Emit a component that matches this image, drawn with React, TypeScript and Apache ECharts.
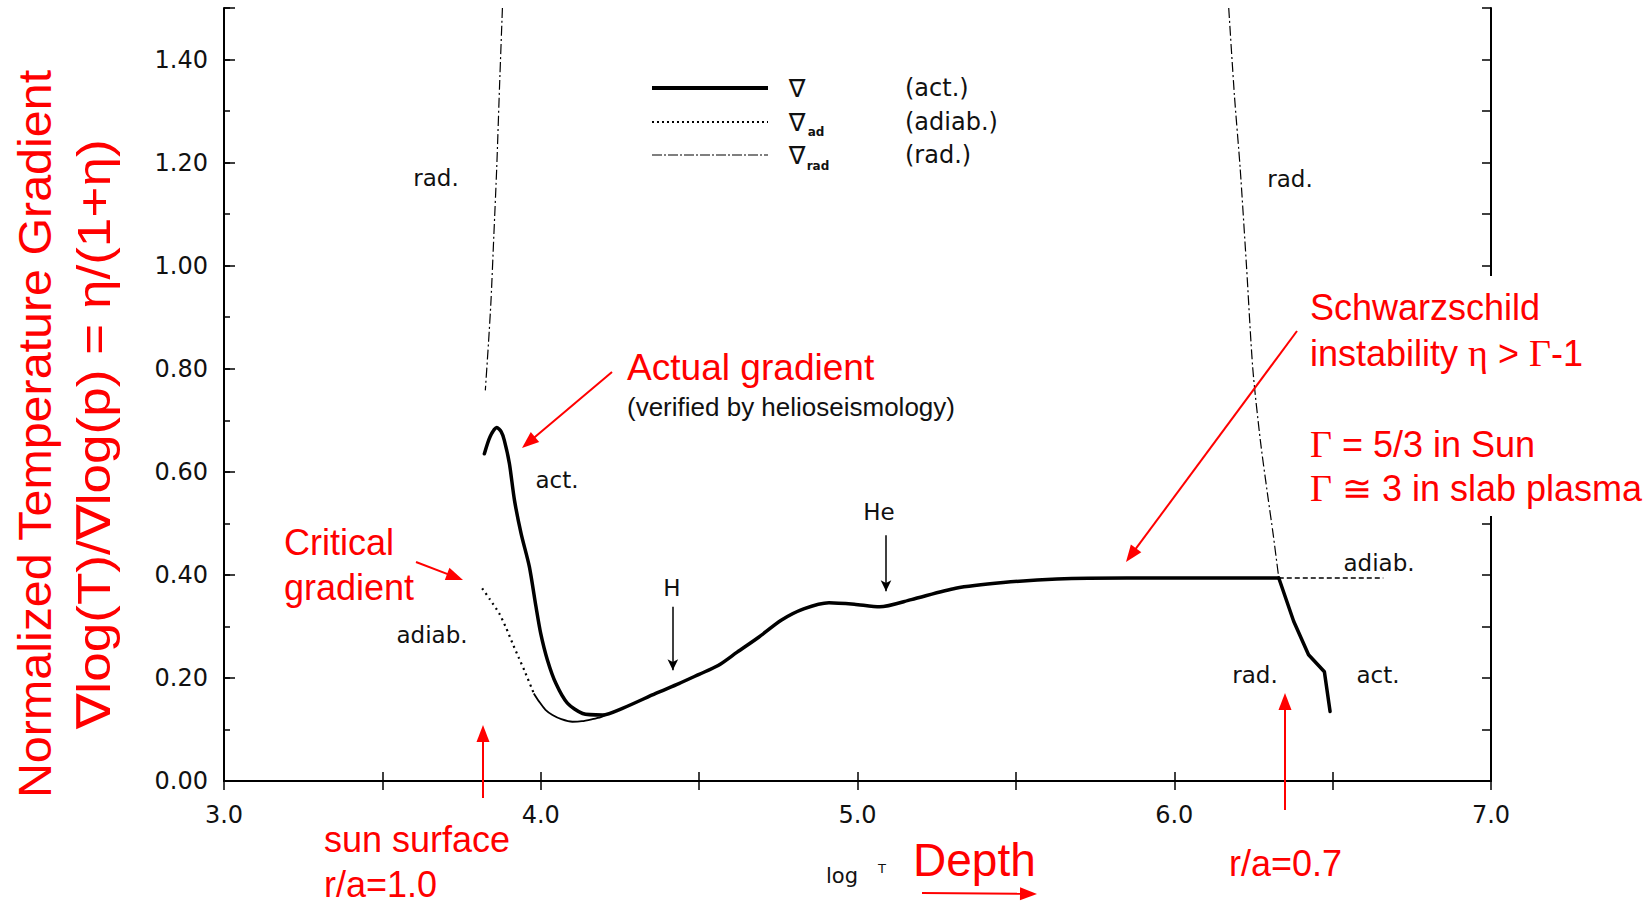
import React, { useEffect, useRef } from 'react';
import * as echarts from 'echarts';

// ---- data (log T vs normalized gradient) ----
const ACT_CONV_X = [3.822, 3.84, 3.861, 3.875, 3.885, 3.901, 3.917, 3.938, 3.964, 3.985, 4.0, 4.021, 4.048, 4.084, 4.132, 4.195, 4.258, 4.363, 4.436, 4.5, 4.56, 4.62, 4.688, 4.759, 4.83, 4.91, 4.99, 5.07, 5.17, 5.31, 5.46, 5.63, 5.85, 6.1, 6.33];
const ACT_CONV_Y = [0.635, 0.668, 0.686, 0.678, 0.661, 0.616, 0.545, 0.48, 0.416, 0.338, 0.286, 0.235, 0.189, 0.151, 0.131, 0.128, 0.141, 0.17, 0.189, 0.207, 0.224, 0.25, 0.279, 0.312, 0.334, 0.346, 0.343, 0.338, 0.352, 0.374, 0.385, 0.392, 0.394, 0.394, 0.394];
const ACT_RAD_X = [6.33, 6.377, 6.424, 6.474, 6.492];
const ACT_RAD_Y = [0.394, 0.31, 0.245, 0.212, 0.135];
const ADIAB_DOT_X = [3.815, 3.84, 3.869, 3.89, 3.911, 3.93, 3.948, 3.978];
const ADIAB_DOT_Y = [0.374, 0.352, 0.325, 0.298, 0.267, 0.24, 0.215, 0.17];
const ADIAB_THIN_X = [3.978, 3.995, 4.015, 4.037, 4.065, 4.1, 4.13, 4.163, 4.19, 4.205];
const ADIAB_THIN_Y = [0.17, 0.154, 0.138, 0.128, 0.12, 0.115, 0.116, 0.12, 0.124, 0.128];
const ADIAB_CORE_X = [6.33, 6.66];
const ADIAB_CORE_Y = [0.394, 0.394];
const RAD_SURF_X = [3.879, 3.87, 3.861, 3.852, 3.843, 3.835, 3.825];
const RAD_SURF_Y = [1.5, 1.35, 1.19, 1.06, 0.933, 0.85, 0.758];
const RAD_CORE_X = [6.172, 6.19, 6.208, 6.228, 6.248, 6.272, 6.296, 6.312, 6.33];
const RAD_CORE_Y = [1.5, 1.33, 1.19, 1.0, 0.8, 0.66, 0.55, 0.48, 0.394];
const H_ARROW = [4.417, 0.338, 0.215];
const HE_ARROW = [5.09, 0.477, 0.368];

const X_MIN = 3, X_MAX = 7, Y_MIN = 0, Y_MAX = 1.5;

const BLACK_FONT = 'DejaVu Sans';
const RED_FONT = '"Liberation Sans", Arial, sans-serif';
const SERIF = '"Liberation Serif", "Times New Roman", serif';
const RED = '#ff0000';
const INK = '#111';

const pairs = (xs: number[], ys: number[]) => xs.map((x, i) => [x, ys[i]]);

function arrow(x1: number, y1: number, x2: number, y2: number, hl = 17, hw = 13, w = 2) {
  const dx = x2 - x1, dy = y2 - y1;
  const len = Math.hypot(dx, dy);
  const ux = dx / len, uy = dy / len;
  const bx = x2 - ux * hl, by = y2 - uy * hl;
  const px = -uy, py = ux;
  return [
    { type: 'line', z: 100, shape: { x1, y1, x2: bx + ux * 2, y2: by + uy * 2 }, style: { stroke: RED, lineWidth: w } },
    {
      type: 'polygon', z: 100,
      shape: { points: [[x2, y2], [bx + (px * hw) / 2, by + (py * hw) / 2], [bx - (px * hw) / 2, by - (py * hw) / 2]] },
      style: { fill: RED },
    },
  ];
}

function txt(text: string, x: number, y: number, size: number, fill = INK, family = BLACK_FONT, align = 'center', extra: any = {}) {
  const { style: extraStyle, ...rest } = extra;
  return {
    type: 'text', z: 100, x, y, ...rest,
    style: { text, fontSize: size, fontFamily: family, fill, align, verticalAlign: 'middle', ...(extraStyle || {}) },
  };
}

export default function App() {
  const ref = useRef<HTMLDivElement>(null);
  useEffect(() => {
    const chart = echarts.init(ref.current!, null, { renderer: 'svg' });
    const axisLine = { show: true, lineStyle: { color: '#000', width: 2 } };
    const tickStyle = { color: '#000', width: 1.5 };
    const lineBase = { type: 'line', xAxisIndex: 0, yAxisIndex: 0, showSymbol: false, symbol: 'none', silent: true, animation: false };

    const graphic: any[] = [
      // white box behind red notes (covers right frame, as in the source)
      { type: 'rect', z: 90, shape: { x: 1300, y: 276, width: 351, height: 240 }, style: { fill: '#fff' } },
      // legend
      { type: 'line', z: 100, shape: { x1: 652, y1: 88, x2: 768, y2: 88 }, style: { stroke: '#000', lineWidth: 4 } },
      { type: 'line', z: 100, shape: { x1: 652, y1: 122, x2: 768, y2: 122 }, style: { stroke: '#000', lineWidth: 1.8, lineDash: [2, 3] } },
      { type: 'line', z: 100, shape: { x1: 652, y1: 155, x2: 768, y2: 155 }, style: { stroke: '#000', lineWidth: 1.2, lineDash: [10, 2, 2, 2] } },
      txt('∇', 797, 88, 25),
      txt('∇', 797, 122, 25),
      txt('ad', 816, 132, 12, INK, BLACK_FONT, 'center', { style: { fontWeight: 'bold' } }),
      txt('∇', 797, 155, 25),
      txt('rad', 818, 166, 12, INK, BLACK_FONT, 'center', { style: { fontWeight: 'bold' } }),
      txt('(act.)', 905, 88, 24, INK, BLACK_FONT, 'left'),
      txt('(adiab.)', 905, 122, 24, INK, BLACK_FONT, 'left'),
      txt('(rad.)', 905, 155, 24, INK, BLACK_FONT, 'left'),
      // black in-plot labels
      txt('rad.', 436, 178, 23),
      txt('rad.', 1290, 179, 23),
      txt('act.', 557, 480, 23),
      txt('adiab.', 432, 635, 23),
      txt('H', 672, 588, 23),
      txt('He', 879, 512, 23),
      txt('adiab.', 1379, 563, 23),
      txt('rad.', 1255, 675, 23),
      txt('act.', 1378, 675, 23),
      txt('log', 842, 876, 21),
      txt('T', 882, 868, 13),
      // y title
      txt('Normalized Temperature Gradient', 35, 434, 47, RED, RED_FONT, 'center', { rotation: Math.PI / 2, scaleX: 1.03 }),
      txt('∇log(T)/∇log(p) = η/(1+η)', 94, 434, 47, RED, RED_FONT, 'center', { rotation: Math.PI / 2, scaleX: 1.13 }),
      // red notes
      txt('Actual gradient', 627, 368, 36, RED, RED_FONT, 'left', { scaleX: 1.03 }),
      txt('(verified by helioseismology)', 627, 407, 25, INK, RED_FONT, 'left', { scaleX: 1.04 }),
      txt('Critical', 284, 542, 36, RED, RED_FONT, 'left'),
      txt('gradient', 284, 587, 36, RED, RED_FONT, 'left'),
      txt('Schwarzschild', 1310, 307, 36, RED, RED_FONT, 'left'),
      {
        type: 'text', z: 100, x: 1310, y: 353,
        style: {
          text: 'instability {s|η} > {s|Γ}-1', fontSize: 36, fontFamily: RED_FONT, fill: RED, align: 'left', verticalAlign: 'middle',
          rich: { s: { fontSize: 38, fontFamily: SERIF, fill: RED } },
        },
      },
      {
        type: 'text', z: 100, x: 1310, y: 444,
        style: {
          text: '{s|Γ} = 5/3 in Sun', fontSize: 36, fontFamily: RED_FONT, fill: RED, align: 'left', verticalAlign: 'middle',
          rich: { s: { fontSize: 38, fontFamily: SERIF, fill: RED } },
        },
      },
      {
        type: 'text', z: 100, x: 1310, y: 488,
        style: {
          text: '{s|Γ} ≅ 3 in slab plasma', fontSize: 36, fontFamily: RED_FONT, fill: RED, align: 'left', verticalAlign: 'middle',
          rich: { s: { fontSize: 38, fontFamily: SERIF, fill: RED } },
        },
      },
      txt('sun surface', 324, 839, 36, RED, RED_FONT, 'left'),
      txt('r/a=1.0', 324, 884, 36, RED, RED_FONT, 'left'),
      txt('r/a=0.7', 1229, 863, 36, RED, RED_FONT, 'left'),
      txt('Depth', 913, 860, 46, RED, RED_FONT, 'left'),
      ...arrow(612, 372, 522, 448),
      ...arrow(416, 562, 463, 580),
      ...arrow(483, 798, 483, 725),
      ...arrow(1297, 331, 1126, 562),
      ...arrow(1285, 810, 1285, 693),
      ...arrow(922, 893, 1037, 894, 17, 13, 2),
    ];

    const option: any = {
      animation: false,
      backgroundColor: '#fff',
      grid: { left: 224, right: 160, top: 8, bottom: 122, containLabel: false },
      xAxis: [
        {
          type: 'value', min: X_MIN, max: X_MAX, interval: 0.5, position: 'bottom',
          axisLine, splitLine: { show: false },
          axisTick: { show: true, inside: true, length: 9, lineStyle: tickStyle },
          axisLabel: {
            show: true, margin: 22, fontSize: 24, color: INK, fontFamily: BLACK_FONT,
            formatter: (v: number) => (Math.abs(v - Math.round(v)) < 1e-6 ? v.toFixed(1) : ''),
          },
        },
        {
          type: 'value', min: X_MIN, max: X_MAX, interval: 0.5, position: 'top',
          axisLine, splitLine: { show: false },
          axisTick: { show: true, inside: true, length: 9, lineStyle: tickStyle },
          axisLabel: { show: false },
        },
      ],
      yAxis: [
        {
          type: 'value', min: Y_MIN, max: Y_MAX, interval: 0.1, position: 'left',
          axisLine, splitLine: { show: false },
          axisTick: { show: true, inside: true, length: 6, lineStyle: tickStyle },
          axisLabel: {
            show: true, margin: 16, fontSize: 24, color: INK, fontFamily: BLACK_FONT,
            formatter: (v: number) => {
              const k = Math.round(v * 10);
              return k % 2 === 0 && k <= 14 ? v.toFixed(2) : '';
            },
          },
        },
        {
          type: 'value', min: Y_MIN, max: Y_MAX, interval: 0.2, position: 'left',
          axisLine: { show: false }, splitLine: { show: false },
          axisTick: { show: true, inside: true, length: 11, lineStyle: tickStyle },
          axisLabel: { show: false },
        },
        {
          type: 'value', min: Y_MIN, max: Y_MAX, interval: 0.1, position: 'right',
          axisLine, splitLine: { show: false },
          axisTick: { show: true, inside: true, length: 9, lineStyle: tickStyle },
          axisLabel: { show: false },
        },
      ],
      series: [
        {
          ...lineBase, name: 'act', data: pairs(ACT_CONV_X, ACT_CONV_Y), smooth: 0.25,
          lineStyle: { color: '#000', width: 3.5, cap: 'round', join: 'round' },
          markLine: {
            silent: true, symbol: ['none', 'arrow'], symbolSize: [8, 11],
            label: { show: false },
            lineStyle: { color: '#000', width: 1.5, type: 'solid' },
            data: [
              [{ coord: [H_ARROW[0], H_ARROW[1]] }, { coord: [H_ARROW[0], H_ARROW[2]] }],
              [{ coord: [HE_ARROW[0], HE_ARROW[1]] }, { coord: [HE_ARROW[0], HE_ARROW[2]] }],
            ],
          },
        },
        { ...lineBase, name: 'act-core', data: pairs(ACT_RAD_X, ACT_RAD_Y), lineStyle: { color: '#000', width: 3.5, join: 'round', cap: 'round' } },
        { ...lineBase, name: 'adiab', data: pairs(ADIAB_DOT_X, ADIAB_DOT_Y), smooth: 0.25, lineStyle: { color: '#000', width: 2.2, type: [2, 4] } },
        { ...lineBase, name: 'adiab-thin', data: pairs(ADIAB_THIN_X, ADIAB_THIN_Y), smooth: 0.25, lineStyle: { color: '#000', width: 1.8 } },
        { ...lineBase, name: 'adiab-core', data: pairs(ADIAB_CORE_X, ADIAB_CORE_Y), lineStyle: { color: '#000', width: 1.5, type: [5, 3] } },
        { ...lineBase, name: 'rad-surf', data: pairs(RAD_SURF_X, RAD_SURF_Y), smooth: 0.25, lineStyle: { color: '#000', width: 1.2, type: [10, 3, 2, 3] } },
        { ...lineBase, name: 'rad-core', data: pairs(RAD_CORE_X, RAD_CORE_Y), smooth: 0.25, lineStyle: { color: '#000', width: 1.2, type: [10, 3, 2, 3] } },
      ],
      graphic,
    };
    chart.setOption(option);
    return () => chart.dispose();
  }, []);
  return <div ref={ref} style={{ position: 'fixed', left: 0, top: 0, width: 1651, height: 903, background: '#fff' }} />;
}
